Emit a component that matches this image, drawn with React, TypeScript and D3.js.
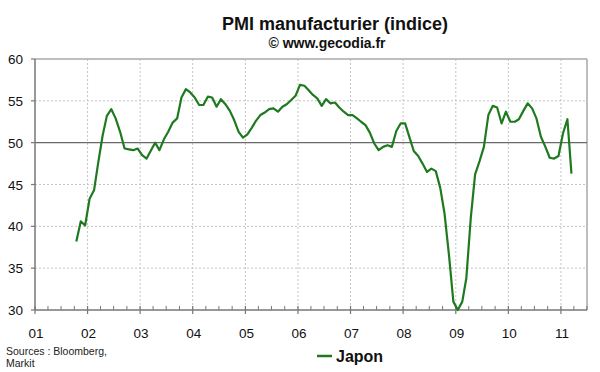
import { useEffect, useRef } from "react"
import * as d3 from "d3"

// Japan manufacturing PMI, monthly, Oct 2001 -> Mar 2011
const START_YEAR = 2001
const START_MONTH = 9 // October (0-based)
const japon: number[] = [
  // 2001 Oct-Dec
  38.2, 40.6, 40.1,
  // 2002
  43.3, 44.3, 47.5, 50.8, 53.2, 54.0, 52.9, 51.3, 49.3, 49.2, 49.1, 49.3,
  // 2003
  48.5, 48.1, 49.0, 50.0, 49.1, 50.4, 51.3, 52.4, 52.9, 55.4, 56.4, 56.0,
  // 2004
  55.4, 54.5, 54.5, 55.5, 55.4, 54.3, 55.2, 54.6, 53.8, 52.7, 51.3, 50.6,
  // 2005
  51.0, 51.8, 52.6, 53.3, 53.6, 54.0, 54.1, 53.7, 54.3, 54.6, 55.1, 55.6,
  // 2006
  56.9, 56.8, 56.3, 55.7, 55.3, 54.4, 55.2, 54.7, 54.8, 54.2, 53.7, 53.3,
  // 2007
  53.3, 52.9, 52.5, 52.1, 51.2, 49.9, 49.1, 49.5, 49.7, 49.5, 51.4, 52.3,
  // 2008
  52.3, 50.6, 49.0, 48.4, 47.5, 46.5, 46.9, 46.6, 44.6, 41.5, 36.5, 31.0,
  // 2009
  30.0, 31.0, 33.8, 41.0, 46.2, 47.8, 49.5, 53.3, 54.4, 54.2, 52.3, 53.7,
  // 2010
  52.5, 52.5, 52.8, 53.8, 54.7, 54.1, 52.9, 50.7, 49.5, 48.2, 48.1, 48.4,
  // 2011 Jan-Mar
  51.1, 52.8, 46.3,
]
const yTicks = [30, 35, 40, 45, 50, 55, 60]
const yearLabels = ["01", "02", "03", "04", "05", "06", "07", "08", "09", "10", "11"]

const W = 600
const H = 372
const GREEN = "#1f7a1f"

export default function App() {
  const svgRef = useRef<SVGSVGElement>(null)

  useEffect(() => {
    if (!svgRef.current) return
    const svg = d3.select(svgRef.current)
    svg.selectAll("*").remove()

    const left = 35
    const right = 587
    const top = 59
    const bottom = 310

    const x = d3
      .scaleTime()
      .domain([new Date(2001, 0, 1), new Date(2011, 6, 1)])
      .range([left, right])
    const y = d3.scaleLinear().domain([30, 60]).range([bottom, top])

    const font = "Liberation Sans, Arial, sans-serif"

    svg.append("rect").attr("width", W).attr("height", H).attr("fill", "#fff")

    // titles
    svg.append("text")
      .attr("x", 335).attr("y", 30)
      .attr("text-anchor", "middle")
      .attr("font-family", font).attr("font-weight", "bold").attr("font-size", 18)
      .attr("fill", "#111")
      .text("PMI manufacturier (indice)")
    svg.append("text")
      .attr("x", 327).attr("y", 48)
      .attr("text-anchor", "middle")
      .attr("font-family", font).attr("font-weight", "bold").attr("font-size", 14)
      .attr("fill", "#111")
      .text("© www.gecodia.fr")

    const years = d3.range(2001, 2012)

    // grid
    const grid = svg.append("g")
    grid.selectAll("line.h")
      .data(yTicks.filter((t) => t !== 30 && t !== 60 && t !== 50))
      .join("line")
      .attr("x1", left).attr("x2", right)
      .attr("y1", (d) => y(d)).attr("y2", (d) => y(d))
      .attr("stroke", "#c4c4c4").attr("stroke-dasharray", "2,2")
    grid.selectAll("line.v")
      .data(years.slice(1))
      .join("line")
      .attr("x1", (d) => x(new Date(d, 0, 1))).attr("x2", (d) => x(new Date(d, 0, 1)))
      .attr("y1", top).attr("y2", bottom)
      .attr("stroke", "#c4c4c4").attr("stroke-dasharray", "2,2")

    // frame
    svg.append("line")
      .attr("x1", left).attr("x2", right).attr("y1", top).attr("y2", top)
      .attr("stroke", "#a8a8a8").attr("stroke-width", 1.5)
    svg.append("line")
      .attr("x1", right).attr("x2", right).attr("y1", top).attr("y2", bottom)
      .attr("stroke", "#a8a8a8").attr("stroke-width", 1.5)
    svg.append("line")
      .attr("x1", left).attr("x2", right).attr("y1", y(50)).attr("y2", y(50))
      .attr("stroke", "#6a6a6a").attr("stroke-width", 1.2)

    // y axis
    svg.append("line")
      .attr("x1", left).attr("x2", left).attr("y1", top).attr("y2", bottom)
      .attr("stroke", "#777").attr("stroke-width", 1.5)
    const yt = svg.append("g")
    yt.selectAll("line")
      .data(yTicks)
      .join("line")
      .attr("x1", left - 4).attr("x2", left)
      .attr("y1", (d) => y(d)).attr("y2", (d) => y(d))
      .attr("stroke", "#777").attr("stroke-width", 1.2)
    yt.selectAll("text")
      .data(yTicks)
      .join("text")
      .attr("x", 23).attr("y", (d) => y(d) + 5)
      .attr("text-anchor", "end")
      .attr("font-family", font).attr("font-size", 13.5)
      .attr("fill", "#111")
      .text((d) => d)

    // x axis
    svg.append("line")
      .attr("x1", left).attr("x2", right).attr("y1", bottom).attr("y2", bottom)
      .attr("stroke", "#777").attr("stroke-width", 1.5)
    const quarters = d3.timeMonth.every(3)!.range(new Date(2001, 0, 1), new Date(2011, 6, 2))
    svg.append("g").selectAll("line")
      .data(quarters.filter((d) => d.getMonth() !== 0))
      .join("line")
      .attr("x1", (d) => x(d)).attr("x2", (d) => x(d))
      .attr("y1", bottom - 4).attr("y2", bottom)
      .attr("stroke", "#777")
    svg.append("g").selectAll("line")
      .data(years)
      .join("line")
      .attr("x1", (d) => x(new Date(d, 0, 1))).attr("x2", (d) => x(new Date(d, 0, 1)))
      .attr("y1", bottom - 4).attr("y2", bottom + 4)
      .attr("stroke", "#777").attr("stroke-width", 1.2)
    svg.append("g").selectAll("text")
      .data(yearLabels)
      .join("text")
      .attr("x", (_, i) => x(new Date(years[i], 0, 1)) + 1)
      .attr("y", 338)
      .attr("text-anchor", "middle")
      .attr("font-family", font).attr("font-size", 13.5)
      .attr("fill", "#111")
      .text((d) => d)

    // series
    const points = japon.map((v, i) => ({
      date: new Date(START_YEAR, START_MONTH + i, 15),
      value: v,
    }))
    const line = d3
      .line<{ date: Date; value: number }>()
      .x((d) => x(d.date))
      .y((d) => y(d.value))
    svg.append("path")
      .datum(points)
      .attr("d", line)
      .attr("fill", "none")
      .attr("stroke", GREEN)
      .attr("stroke-width", 2.2)
      .attr("stroke-linejoin", "round")

    // sources
    svg.append("text")
      .attr("x", 6).attr("y", 355)
      .attr("font-family", font).attr("font-size", 10.5)
      .attr("fill", "#222")
      .text("Sources : Bloomberg,")
    svg.append("text")
      .attr("x", 6).attr("y", 367)
      .attr("font-family", font).attr("font-size", 10.5)
      .attr("fill", "#222")
      .text("Markit")

    // legend
    svg.append("line")
      .attr("x1", 317).attr("x2", 332).attr("y1", 356).attr("y2", 356)
      .attr("stroke", GREEN).attr("stroke-width", 2.5)
    svg.append("text")
      .attr("x", 336).attr("y", 362)
      .attr("font-family", font).attr("font-weight", "bold").attr("font-size", 16)
      .attr("fill", "#111")
      .text("Japon")
  }, [])

  return (
    <div style={{ position: "absolute", left: 0, top: 0 }}>
      <svg ref={svgRef} width={W} height={H} style={{ display: "block" }} />
    </div>
  )
}
